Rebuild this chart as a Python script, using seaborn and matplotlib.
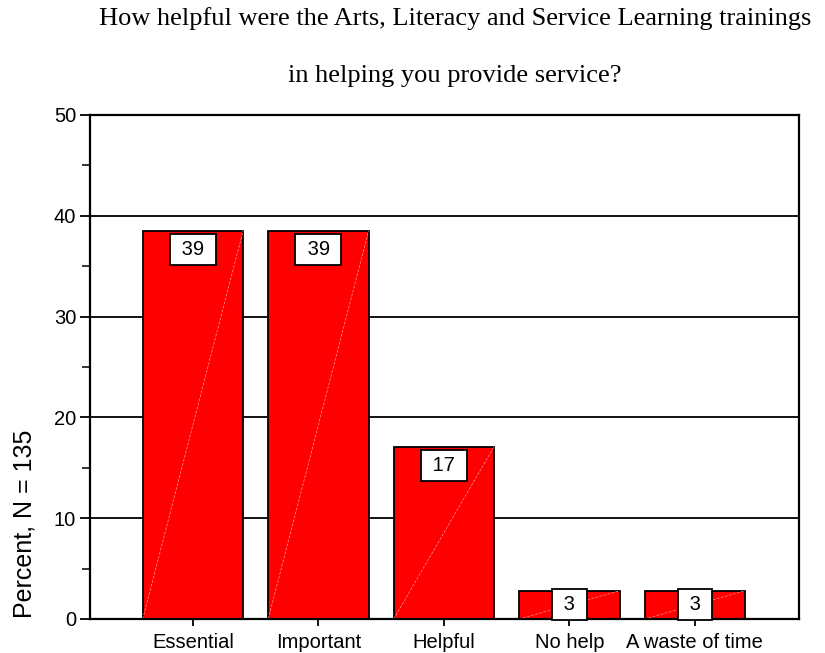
import matplotlib
matplotlib.use("Agg")
import matplotlib.pyplot as plt
from matplotlib.ticker import MultipleLocator
import seaborn as sns
import pandas as pd

categories = ["Essential", "Important", "Helpful", "No help", "A waste of time"]
percent = [38.5, 38.5, 17.1, 2.8, 2.8]
labels = ["39", "39", "17", "3", "3"]
title_lines = ["How helpful were the Arts, Literacy and Service Learning trainings",
               "in helping you provide service?"]
ylabel = "Percent, N = 135"
yticks = [0, 10, 20, 30, 40, 50]

sns.set_theme(style="ticks")
plt.rcParams["font.family"] = ["Liberation Sans", "DejaVu Sans"]

df = pd.DataFrame({"cat": categories, "pct": percent})

fig = plt.figure(figsize=(8.25, 6.53), dpi=100)
ax = fig.add_axes([90/825, 1-619/653, (799-90)/825, (619-115)/653])

sns.barplot(data=df, x="cat", y="pct", color="#ff0000", saturation=1,
            edgecolor="black", linewidth=1.3, width=0.8, ax=ax, zorder=2)

# faint diagonal artifact inside bars
for p in ax.patches:
    x0, y0 = p.get_x(), p.get_y()
    ax.plot([x0, x0 + p.get_width()], [y0, y0 + p.get_height()],
            color="#ff9c9c", lw=0.5, ls=(0, (4, 2)), zorder=2.5)

# value labels in white boxes
for i, (v, lab) in enumerate(zip(percent, labels)):
    y = max(v - 1.85, 1.45)
    ax.text(i, y, f" {lab} ", ha="center", va="center", fontsize=14.5,
            color="black", zorder=4,
            bbox=dict(boxstyle="square,pad=0.3", fc="white", ec="black", lw=1.3))

ax.set_xlim(-0.82, 4.83)
ax.set_ylim(0, 50)
ax.set_yticks(yticks)
ax.yaxis.set_minor_locator(MultipleLocator(5))
ax.set_axisbelow(True)
ax.yaxis.grid(True, which="major", color="black", lw=1.3)
ax.xaxis.grid(False)

for s in ax.spines.values():
    s.set_visible(True)
    s.set_color("black")
    s.set_linewidth(1.6)

ax.tick_params(axis="y", which="major", length=7, width=1.3, pad=3,
               labelsize=14.5, colors="black", left=True)
ax.tick_params(axis="y", which="minor", length=6, width=1.3, left=True)
ax.tick_params(axis="x", which="major", length=5, width=1.3, pad=5,
               labelsize=14.5, colors="black", bottom=True)
ax.set_xlabel("")
ax.set_ylabel("")

fig.text(25/825, 1-524/653, ylabel, rotation=90, ha="center", va="center",
         fontsize=18, color="black")

fig.text(455/825, 1-25/653, title_lines[0], ha="center", va="baseline",
         fontsize=19, family=["Liberation Serif", "DejaVu Serif"], color="black")
fig.text(455/825, 1-82/653, title_lines[1], ha="center", va="baseline",
         fontsize=19, family=["Liberation Serif", "DejaVu Serif"], color="black")

fig.savefig("out.png", dpi=100)
